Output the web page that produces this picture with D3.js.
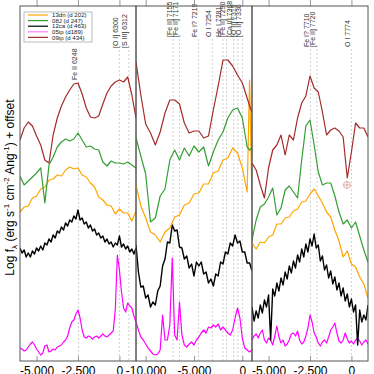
<!DOCTYPE html>
<html>
<head>
<meta charset="utf-8">
<script src="https://cdn.jsdelivr.net/npm/d3@7"></script>
<style>
  body { margin: 0; background: #fff; }
  svg { display: block; font-family: "Liberation Sans", Arial, sans-serif; }
</style>
</head>
<body>
<div id="chart"></div>
<script>
// velocity grids (km/s)
const velA = [-6000,-5750,-5500,-5250,-5000,-4750,-4500,-4250,-4000,-3750,-3500,-3250,-3000,-2750,-2500,-2250,-2000,-1750,-1500,-1250,-1000,-750,-500,-250,0,250,500,750,1000];
const velAfine = [-6000,-5875,-5750,-5625,-5500,-5375,-5250,-5125,-5000,-4875,-4750,-4625,-4500,-4375,-4250,-4125,-4000,-3875,-3750,-3625,-3500,-3375,-3250,-3125,-3000,-2875,-2750,-2625,-2500,-2375,-2250,-2125,-2000,-1875,-1750,-1625,-1500,-1375,-1250,-1125,-1000,-875,-750,-625,-500,-375,-250,-125,0,125,250,375,500,625,750,875,1000];
const velB = [-11000,-10500,-10000,-9500,-9000,-8500,-8000,-7500,-7000,-6500,-6000,-5500,-5000,-4500,-4000,-3500,-3000,-2500,-2000,-1500,-1000,-500,0,500,750,1000];
const velBfine = [-11000,-10750,-10500,-10250,-10000,-9750,-9500,-9250,-9000,-8750,-8500,-8250,-8000,-7750,-7500,-7250,-7000,-6750,-6500,-6250,-6000,-5750,-5500,-5250,-5000,-4750,-4500,-4250,-4000,-3750,-3500,-3250,-3000,-2750,-2500,-2250,-2000,-1750,-1500,-1250,-1000,-750,-500,-250,0,250,500,750,1000];

// log flux + offset, panel 1 ([O I] 6300)
const p1Orange = [14.9,15.4,15.5,16.3,16.5,17.2,17.4,18.1,18.2,18.6,18.5,19.1,19.4,19.2,19.3,18.6,18.4,17.8,17.4,16.4,16.1,15.6,15.5,14.7,15.2,14.8,14.8,14.0,15.0];
const p1Green = [18.5,17.6,18.0,18.4,18.8,19.3,15.8,19.6,20.4,21.4,21.9,22.2,22.0,22.2,22.8,22.1,21.4,21.5,21.2,21.1,19.9,19.5,20.0,19.8,19.8,19.7,19.9,19.6,19.3];
const p1Brown = [22.1,23.3,23.9,23.5,22.5,21.6,20.1,19.8,22.6,24.3,25.5,26.4,27.1,27.7,27.8,26.7,25.3,24.4,24.3,24.5,25.7,26.8,27.5,27.9,28.1,27.9,28.4,26.6,24.3];
const p1Black = [11.3,10.8,11.1,10.4,10.8,10.4,11.0,10.7,11.3,11.0,11.5,11.1,11.8,11.6,12.2,11.9,12.6,12.3,13.0,12.8,13.4,13.1,13.8,13.5,14.1,13.9,14.5,14.2,15.1,14.1,14.3,13.7,13.9,13.3,13.6,13.0,13.2,12.6,12.8,12.3,12.5,11.9,12.2,11.7,11.9,11.4,11.8,11.6,12.5,11.4,11.7,11.2,11.5,10.9,11.2,10.7,11.3];
const p1Magenta = [1.3,1.2,1.0,1.1,1.4,1.7,1.9,1.6,1.2,0.9,0.6,0.8,1.5,1.6,0.9,1.0,1.2,1.1,1.4,1.5,1.6,1.9,2.1,2.5,3.3,3.9,4.1,4.7,5.1,4.3,3.1,2.4,2.3,2.5,2.4,2.2,2.4,2.5,2.3,2.5,2.7,2.5,2.4,2.6,2.8,3.0,5.1,10.6,9.1,6.9,5.3,4.9,5.8,5.5,5.3,4.5,3.9];

// panel 2 ([O II] 7330)
const p2Orange = [17.6,15.5,14.3,12.9,12.6,11.9,12.9,13.3,14.4,14.6,15.6,15.8,16.7,16.8,17.7,17.7,18.8,19.0,20.1,20.3,21.3,20.8,19.3,16.9,28.1,16.1];
const p2Green = [22.3,20.5,18.7,13.9,14.3,16.5,17.2,20.1,21.1,20.1,21.3,20.5,21.5,20.9,21.4,19.5,20.9,22.1,22.9,24.3,25.1,25.3,24.3,21.4,21.1,21.3];
const p2Brown = [29.9,26.6,23.7,22.8,21.6,22.9,24.8,26.1,26.1,25.7,23.8,22.8,23.0,23.0,22.3,22.5,25.1,27.5,30.1,30.1,29.5,28.6,27.8,26.3,25.5,24.9];
const p2Black = [11.6,8.9,7.4,7.5,6.3,6.6,5.4,5.9,5.6,7.0,7.5,9.5,10.2,11.9,11.8,13.6,13.0,13.1,11.4,11.3,10.2,10.5,9.3,9.7,8.5,9.9,9.5,9.9,8.7,8.9,7.8,8.2,7.5,8.7,8.5,9.9,9.7,10.9,10.7,11.8,11.5,12.6,11.8,12.0,10.9,10.9,9.8,9.8,9.0];
const p2Magenta = [3.9,3.1,2.4,2.1,1.7,1.3,1.0,0.7,0.6,0.7,1.1,4.6,2.1,2.1,3.6,10.3,2.6,2.1,5.9,2.6,1.6,1.4,1.7,1.9,1.6,2.1,2.4,2.8,3.1,2.8,3.4,3.3,3.6,3.4,3.7,3.1,3.4,3.1,2.8,2.6,3.1,4.3,5.3,4.3,2.3,1.3,1.1,0.9,1.1];

// panel 3 (O I 7774)
const p3Orange = [11.8,11.2,11.9,11.8,12.4,12.6,13.7,13.7,14.3,14.4,15.0,15.2,15.9,16.0,16.7,17.2,16.5,15.8,14.9,14.4,13.1,12.0,10.4,11.0,9.7,9.4,8.4,7.7,6.3];
const p3Green = [12.1,14.1,15.4,15.7,16.4,17.3,14.6,15.3,17.1,17.5,16.9,16.3,20.1,23.5,24.1,21.6,18.9,17.6,17.8,17.8,16.5,14.9,13.7,14.1,13.3,13.9,12.5,11.1,9.9];
const p3Brown = [19.8,19.1,17.6,16.3,19.3,21.1,21.6,22.6,20.6,22.6,22.1,24.3,25.8,26.5,28.5,27.3,26.9,24.9,22.6,23.1,23.3,23.0,22.4,18.3,20.9,23.8,23.3,23.3,22.4];
const p3Black = [5.4,4.0,5.0,4.3,5.6,4.8,6.1,5.4,6.6,2.1,7.2,6.5,7.8,7.0,8.3,7.6,8.9,8.2,9.5,8.8,10.0,9.3,10.6,9.9,11.2,10.4,11.7,10.9,12.2,11.5,12.7,11.3,11.6,10.0,10.5,9.1,9.6,8.3,9.0,7.7,8.4,7.1,7.8,6.5,7.3,6.0,6.7,5.4,6.2,4.9,5.6,1.6,5.1,3.9,4.6,4.1,5.6];
const p3Magenta = [2.1,2.5,2.7,2.3,2.8,3.1,2.1,1.8,2.3,2.1,1.6,2.5,3.5,2.4,1.8,2.1,1.5,1.7,2.1,2.7,2.8,2.5,3.0,2.1,1.7,1.9,2.5,3.3,4.6,3.9,2.8,2.4,1.8,1.5,1.9,2.1,1.8,2.4,3.1,3.4,3.8,2.8,2.0,1.8,2.1,2.8,2.2,1.8,2.0,1.7,2.1,2.3,2.0,1.6,1.9,2.1,1.7];

// line identifications
const restWave = [6300, 7330, 7774];
const lineNames1 = ["Fe II 6248", "[O I] 6300", "[S III] 6312"];
const lineWaves1 = [6248, 6300, 6312];
const lineNames2 = ["[Fe II] 7155", "[Fe II] 7171", "Fe I? 7219", "O I 7254", "He I 7281", "[Fe II] 7290", "[Ca II] 7308", "[O II] 7319", "[O II] 7330"];
const lineWaves2 = [7155, 7171, 7219, 7254, 7281, 7290, 7308, 7319, 7330];
const lineNames3 = ["Fe I? 7710", "[Fe II] 7720", "O I 7774"];
const lineWaves3 = [7710, 7720, 7774];

const ticksA = [-5000, -2500, 0];
const ticksB = [-10000, -5000, 0];

const legendNames = ["13dn (d 202)", "08J (d 247)", "12ca (d 463)", "05ip (d189)", "09ip (d 434)"];
const telluric = { v: -270, f: 17.6 };

const C = 299792.458;
const colors = { orange: "#ffa500", green: "#339e33", black: "#000", magenta: "#ff00ff", brown: "#a52a2a" };
const legendColors = [colors.orange, colors.green, colors.black, "#ff7cff", colors.brown];

const width = 374, height = 374;
const plotTop = 6, plotBottom = 361;

const svg = d3.select("#chart").append("svg")
  .attr("width", width)
  .attr("height", height);

const y = d3.scaleLinear().domain([0, 35.5]).range([plotBottom, plotTop]);

const panels = [
  { x0: 20, x1: 136, dom: [-6000, 1000], ticks: ticksA, rest: restWave[0], names: lineNames1, waves: lineWaves1, labelY: [80, 48, 48],
    series: [
      { c: colors.magenta, v: velAfine, d: p1Magenta },
      { c: colors.black, v: velAfine, d: p1Black },
      { c: colors.orange, v: velA, d: p1Orange },
      { c: colors.green, v: velA, d: p1Green },
      { c: colors.brown, v: velA, d: p1Brown }
    ] },
  { x0: 136, x1: 252, dom: [-11000, 1000], ticks: ticksB, rest: restWave[1], names: lineNames2, waves: lineWaves2, labelY: [37, 37, 37, 37, 37, 37, 37, 37, 37],
    series: [
      { c: colors.magenta, v: velBfine, d: p2Magenta },
      { c: colors.black, v: velBfine, d: p2Black },
      { c: colors.orange, v: velB, d: p2Orange },
      { c: colors.green, v: velB, d: p2Green },
      { c: colors.brown, v: velB, d: p2Brown }
    ] },
  { x0: 252, x1: 368, dom: [-6000, 1000], ticks: ticksA, rest: restWave[2], names: lineNames3, waves: lineWaves3, labelY: [47, 47, 47],
    series: [
      { c: colors.magenta, v: velAfine, d: p3Magenta },
      { c: colors.black, v: velAfine, d: p3Black },
      { c: colors.orange, v: velA, d: p3Orange },
      { c: colors.green, v: velA, d: p3Green },
      { c: colors.brown, v: velA, d: p3Brown }
    ] }
];

const fmt = d => d3.format(",")(d).replace("\u2212", "-");

panels.forEach((p, pi) => {
  const x = d3.scaleLinear().domain(p.dom).range([p.x0, p.x1]);
  const g = svg.append("g");

  g.append("clipPath").attr("id", "clip" + pi)
    .append("rect")
    .attr("x", p.x0).attr("y", plotTop)
    .attr("width", p.x1 - p.x0).attr("height", plotBottom - plotTop);

  // dashed line markers
  p.waves.forEach((w, i) => {
    const vx = x(C * (w - p.rest) / p.rest);
    g.append("line")
      .attr("x1", vx).attr("x2", vx)
      .attr("y1", p.labelY[i] + 2).attr("y2", plotBottom)
      .attr("stroke", "#c4c4c4")
      .attr("stroke-width", 0.8)
      .attr("stroke-dasharray", "2,2");
  });

  // spectra
  const plot = g.append("g").attr("clip-path", `url(#clip${pi})`);
  p.series.forEach(s => {
    const line = d3.line()
      .x((d, i) => x(s.v[i]))
      .y(d => y(d));
    plot.append("path")
      .attr("d", line(s.d))
      .attr("fill", "none")
      .attr("stroke", s.c)
      .attr("stroke-width", s.c === colors.black ? 1.4 : 1.2)
      .attr("stroke-linejoin", "round");
  });

  // telluric marker in last panel
  if (pi === 2) {
    const tx = x(telluric.v), ty = y(telluric.f);
    const tg = g.append("g").attr("stroke", "#d99a9a").attr("stroke-width", 0.8).attr("fill", "none");
    tg.append("circle").attr("cx", tx).attr("cy", ty).attr("r", 3.5);
    tg.append("line").attr("x1", tx - 3.5).attr("x2", tx + 3.5).attr("y1", ty).attr("y2", ty);
    tg.append("line").attr("x1", tx).attr("x2", tx).attr("y1", ty - 3.5).attr("y2", ty + 3.5);
  }

  // line labels
  p.names.forEach((n, i) => {
    const vx = x(C * (p.waves[i] - p.rest) / p.rest);
    g.append("text")
      .attr("transform", `translate(${vx - 1.5},${p.labelY[i]}) rotate(-90)`)
      .attr("font-size", 7)
      .attr("fill", "#333")
      .text(n);
  });

  // axes
  const xb = g.append("g")
    .attr("transform", `translate(0,${plotBottom})`)
    .call(d3.axisBottom(x).tickValues(p.ticks).tickFormat(fmt)
      .tickSizeInner(-5).tickSizeOuter(0).tickPadding(5));
  xb.select(".domain").remove();
  xb.selectAll("line").attr("stroke", "#999");
  xb.selectAll("text").attr("font-size", 12).attr("fill", "#000")
    .attr("font-family", "'Liberation Sans', Arial, sans-serif");

  const xt = g.append("g")
    .attr("transform", `translate(0,${plotTop})`)
    .call(d3.axisTop(x).tickValues(p.ticks).tickFormat("").tickSizeInner(6).tickSizeOuter(0));
  xt.select(".domain").remove();
  xt.selectAll("line").attr("stroke", "#999");

  // frame
  g.append("rect")
    .attr("x", p.x0).attr("y", plotTop)
    .attr("width", p.x1 - p.x0).attr("height", plotBottom - plotTop)
    .attr("fill", "none")
    .attr("stroke", "#555")
    .attr("stroke-width", 1);
});

// y label
const yl = svg.append("text")
  .attr("transform", `translate(14,${(plotTop + plotBottom) / 2 + 4}) rotate(-90)`)
  .attr("text-anchor", "middle")
  .attr("font-size", 12)
  .attr("fill", "#000");
yl.append("tspan").text("Log f");
yl.append("tspan").attr("font-size", 8).attr("dy", 3).text("\u03bb");
yl.append("tspan").attr("dy", -3).text(" (erg  s");
yl.append("tspan").attr("font-size", 8).attr("dy", -5).text("-1");
yl.append("tspan").attr("dy", 5).text(" cm");
yl.append("tspan").attr("font-size", 8).attr("dy", -5).text("-2");
yl.append("tspan").attr("dy", 5).text(" Ang");
yl.append("tspan").attr("font-size", 8).attr("dy", -5).text("-1");
yl.append("tspan").attr("dy", 5).text(") + offset");

// legend
const lg = svg.append("g");
lg.append("rect")
  .attr("x", 24).attr("y", 12)
  .attr("width", 68).attr("height", 30)
  .attr("fill", "#fff")
  .attr("stroke", "#aaa")
  .attr("stroke-width", 0.8);
legendNames.forEach((n, i) => {
  const ly = 15 + i * 5.6;
  lg.append("line")
    .attr("x1", 28).attr("x2", 48)
    .attr("y1", ly).attr("y2", ly)
    .attr("stroke", legendColors[i])
    .attr("stroke-width", 1.2);
  lg.append("text")
    .attr("x", 52).attr("y", ly + 2.1)
    .attr("font-size", 6.1)
    .attr("fill", "#222")
    .text(n);
});
</script>
</body>
</html>
